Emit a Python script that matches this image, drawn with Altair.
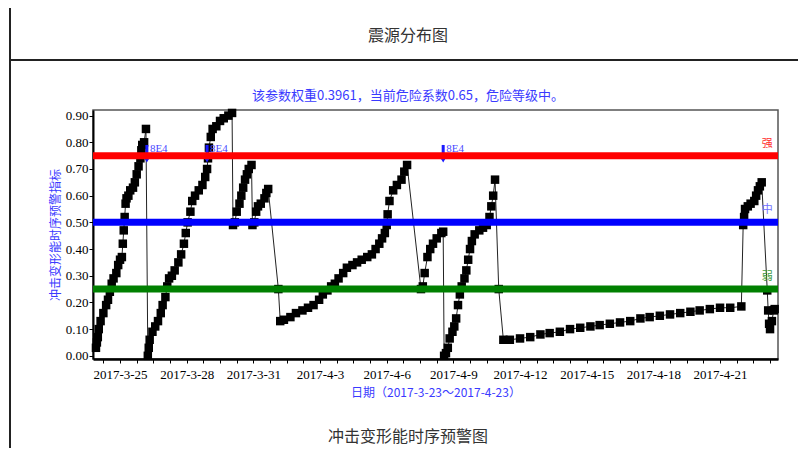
import altair as alt
import pandas as pd
from datetime import datetime, timedelta

# ---- data (UTC times "MM-DD HH") ----
times = [
    "03-23 22", "03-23 23", "03-24 00", "03-24 01", "03-24 03", "03-24 06", "03-24 09", "03-24 11",
    "03-24 13", "03-24 15", "03-24 17", "03-24 20", "03-24 22", "03-25 00", "03-25 02", "03-25 03",
    "03-25 04", "03-25 05", "03-25 06", "03-25 07", "03-25 09", "03-25 11", "03-25 14", "03-25 16",
    "03-25 18", "03-25 20", "03-25 22", "03-25 23", "03-26 00", "03-26 02", "03-26 04",
    "03-26 06", "03-26 07", "03-26 08", "03-26 11", "03-26 14", "03-26 17", "03-26 20", "03-26 22",
    "03-27 01", "03-27 03", "03-27 05", "03-27 08", "03-27 11", "03-27 15", "03-27 18", "03-27 21",
    "03-27 23", "03-28 01", "03-28 04", "03-28 06", "03-28 09", "03-28 13", "03-28 17", "03-28 20",
    "03-28 22", "03-28 23", "03-29 00", "03-29 02", "03-29 04", "03-29 08", "03-29 12", "03-29 16",
    "03-29 21", "03-30 01",
    "03-30 02", "03-30 04", "03-30 06", "03-30 09", "03-30 11", "03-30 13", "03-30 15", "03-30 17",
    "03-30 19", "03-30 22", "03-30 23", "03-31 01", "03-31 03", "03-31 05", "03-31 08", "03-31 12",
    "03-31 14", "03-31 16", "04-01 03",
    "04-01 05", "04-01 09", "04-01 16", "04-01 22", "04-02 05", "04-02 11", "04-02 17", "04-02 23",
    "04-03 03", "04-03 08", "04-03 12", "04-03 16", "04-03 20", "04-04 01", "04-04 05", "04-04 11",
    "04-04 16", "04-04 21", "04-05 03", "04-05 08", "04-05 12", "04-05 16", "04-05 19", "04-05 22",
    "04-06 00", "04-06 01", "04-06 03", "04-06 07", "04-06 11", "04-06 16", "04-06 19", "04-06 22",
    "04-07 13", "04-07 15", "04-07 17", "04-07 20", "04-07 23", "04-08 02", "04-08 06", "04-08 11",
    "04-08 13",
    "04-08 14", "04-08 16", "04-08 18", "04-08 20", "04-08 23", "04-09 01", "04-09 03", "04-09 05",
    "04-09 07", "04-09 09", "04-09 12", "04-09 14", "04-09 16", "04-09 18", "04-09 20", "04-09 23",
    "04-10 04", "04-10 08", "04-10 12", "04-10 15", "04-10 17", "04-10 19", "04-10 21", "04-11 01",
    "04-11 06",
    "04-11 13", "04-12 00", "04-12 11", "04-12 22", "04-13 08", "04-13 19", "04-14 06", "04-14 17",
    "04-15 04", "04-15 14", "04-16 01", "04-16 12", "04-16 23", "04-17 10", "04-17 20", "04-18 07",
    "04-18 18", "04-19 05", "04-19 16", "04-20 02", "04-20 13", "04-21 00", "04-21 11", "04-21 23",
    "04-22 01", "04-22 02", "04-22 03", "04-22 06", "04-22 09", "04-22 13", "04-22 15", "04-22 17",
    "04-22 19", "04-22 21", "04-23 03", "04-23 04", "04-23 05", "04-23 06", "04-23 08", "04-23 10",
    "04-23 11",
]
values = [
    0.03, 0.05, 0.07, 0.10, 0.13, 0.16, 0.19, 0.21,
    0.24, 0.27, 0.29, 0.31, 0.34, 0.36, 0.37, 0.42,
    0.47, 0.52, 0.57, 0.59, 0.60, 0.62, 0.63, 0.65,
    0.68, 0.71, 0.74, 0.77, 0.79, 0.80, 0.85,
    0.00, 0.03, 0.06, 0.09, 0.11, 0.13, 0.16, 0.19,
    0.22, 0.26, 0.29, 0.30, 0.32, 0.35, 0.38, 0.42,
    0.46, 0.50, 0.54, 0.58, 0.60, 0.62, 0.64, 0.67,
    0.70, 0.74, 0.78, 0.82, 0.85, 0.86, 0.88, 0.89,
    0.90, 0.91,
    0.49, 0.50, 0.54, 0.57, 0.60, 0.63, 0.66, 0.68,
    0.70, 0.715, 0.49, 0.50, 0.54, 0.56, 0.57, 0.59,
    0.61, 0.625, 0.25,
    0.13, 0.135, 0.145, 0.16, 0.17, 0.18, 0.19, 0.21,
    0.23, 0.245, 0.26, 0.27, 0.29, 0.31, 0.33, 0.34,
    0.35, 0.36, 0.37, 0.38, 0.40, 0.42, 0.44, 0.46,
    0.49, 0.53, 0.58, 0.62, 0.64, 0.66, 0.69, 0.715,
    0.25, 0.26, 0.31, 0.37, 0.40, 0.42, 0.44, 0.46,
    0.465,
    0.00, 0.01, 0.03, 0.065, 0.09, 0.11, 0.14, 0.19,
    0.23, 0.26, 0.29, 0.32, 0.36, 0.40, 0.43, 0.455,
    0.47, 0.48, 0.49, 0.52, 0.56, 0.60, 0.66, 0.25,
    0.06,
    0.06, 0.065, 0.07, 0.08, 0.085, 0.09, 0.10, 0.105,
    0.11, 0.115, 0.12, 0.125, 0.13, 0.14, 0.145, 0.15,
    0.155, 0.16, 0.165, 0.17, 0.175, 0.18, 0.18, 0.185,
    0.49, 0.52, 0.55, 0.56, 0.57, 0.58, 0.60, 0.62,
    0.635, 0.65, 0.245, 0.17, 0.12, 0.10, 0.13, 0.17,
    0.175,
]

event_times = ["03-26 05", "03-28 22", "04-08 13"]
event_text = "8E4"
event_low, event_mid, event_high = 0.735, 0.775, 0.79

threshold_values = [0.75, 0.50, 0.25]
threshold_colors = ["#ff0000", "#0000ff", "#008000"]
threshold_names = ["强", "中", "弱"]
threshold_name_colors = ["#ff3030", "#7070ff", "#3c9a3c"]
threshold_name_time = "04-23 03"

y_ticks = [0.0, 0.1, 0.2, 0.3, 0.4, 0.5, 0.6, 0.7, 0.8, 0.9]

title_text = "该参数权重0.3961，当前危险系数0.65，危险等级中。"
y_title = "冲击变形能时序预警指标"
x_title = "日期（2017-3-23～2017-4-23）"
top_caption = "震源分布图"
bottom_caption = "冲击变形能时序预警图"


def iso(t):
    md, h = t.split(" ")
    return f"2017-{md}T{h}:00:00Z"


series = pd.DataFrame({"t": [iso(t) for t in times], "v": values})
events = pd.DataFrame({
    "t": [iso(t) for t in event_times],
    "lo": [event_low] * len(event_times),
    "mid": [event_mid] * len(event_times),
    "hi": [event_high] * len(event_times),
    "txt": [event_text] * len(event_times),
})
thresholds = pd.DataFrame({
    "v": threshold_values,
    "c": threshold_colors,
    "name": threshold_names,
    "nc": threshold_name_colors,
    "t": [iso(threshold_name_time)] * 3,
})

W, H = 685, 249
BLUE = "#3a3aff"
CJK = "Noto Sans CJK SC"
SERIF = "Liberation Serif"

x_scale = alt.Scale(
    type="utc",
    domain=[
        alt.DateTime(year=2017, month=3, date=23, hours=18, minutes=48, utc=True),
        alt.DateTime(year=2017, month=4, date=23, hours=14, minutes=36, utc=True),
    ],
)
y_scale = alt.Scale(domain=[-0.012, 0.921], nice=False, zero=False)

base_dt = datetime(2017, 3, 25)
tick_vals = []
for k in range(-1, 40):
    d = base_dt + timedelta(hours=18 * k)
    tick_vals.append(alt.DateTime(year=d.year, month=d.month, date=d.day, hours=d.hour, utc=True))

x_axis = alt.Axis(
    values=tick_vals,
    labelExpr="((datum.value - utc(2017,2,25)) % 259200000 == 0) ? utcFormat(datum.value, '%Y-%-m-%-d') : ''",
    labelOverlap=False, labelFlush=False, labelBound=False,
    tickSize=4, tickColor="black", tickWidth=1,
    domainColor="black", domainWidth=2.5,
    labelFont=SERIF, labelFontSize=13, labelColor="black", labelPadding=5,
    title=x_title, titleFont=CJK, titleFontSize=12, titleFontWeight="normal",
    titleColor=BLUE, titlePadding=6, grid=False,
)
y_axis = alt.Axis(
    values=y_ticks, format=".2f",
    tickSize=4, tickColor="black", domainColor="black", domainWidth=2,
    labelFont=SERIF, labelFontSize=13, labelColor="black", labelPadding=1,
    title=y_title, titleFont=CJK, titleFontSize=12, titleFontWeight="normal",
    titleColor=BLUE, titlePadding=3, grid=False,
)


def X(field):
    return alt.X(field, type="temporal", scale=x_scale, axis=x_axis)


def Y(field):
    return alt.Y(field, type="quantitative", scale=y_scale, axis=y_axis)


one = alt.Data(values=[{"a": 1}])

# decorations of the surrounding page frame and texts
left_frame = alt.Chart(one).mark_rule(color="#222", strokeWidth=2).encode(
    x=alt.value(-83), y=alt.value(-102), y2=alt.value(345))
mid_frame = alt.Chart(one).mark_rule(color="#222", strokeWidth=2).encode(
    x=alt.value(-84), x2=alt.value(705), y=alt.value(-50))
top_cap = alt.Chart(one).mark_text(font=CJK, fontSize=16, color="#333").encode(
    x=alt.value(315), y=alt.value(-74), text=alt.value(top_caption))
bot_cap = alt.Chart(one).mark_text(font=CJK, fontSize=16, color="#333").encode(
    x=alt.value(315), y=alt.value(327), text=alt.value(bottom_caption))
title_mark = alt.Chart(one).mark_text(font=CJK, fontSize=13, color=BLUE).encode(
    x=alt.value(315), y=alt.value(-14), text=alt.value(title_text))

line = alt.Chart(series).mark_line(color="#222", strokeWidth=1).encode(x=X("t"), y=Y("v"))
pts = alt.Chart(series).mark_point(shape="square", size=72, filled=True, color="black", opacity=1).encode(
    x=X("t"), y=Y("v"))

ev_stem = alt.Chart(events).mark_rule(color="#1a1aff", strokeWidth=3).encode(
    x=X("t"), y=Y("lo"), y2="hi:Q")
ev_tri = alt.Chart(events).mark_point(shape="triangle-down", size=45, filled=True, color="#1a1aff", opacity=1).encode(
    x=X("t"), y=Y("lo"))
ev_txt = alt.Chart(events).mark_text(align="left", dx=3, font=SERIF, fontSize=11, color="#4a4aff").encode(
    x=X("t"), y=Y("mid"), text="txt:N")

th_rules = alt.Chart(thresholds).mark_rule(strokeWidth=7).encode(
    y=Y("v"), color=alt.Color("c:N", scale=None))
th_names = alt.Chart(thresholds).mark_text(font=CJK, fontSize=11, dy=-12).encode(
    x=X("t"), y=Y("v"), text="name:N", color=alt.Color("nc:N", scale=None))

chart = alt.layer(
    left_frame, mid_frame, top_cap, bot_cap, title_mark,
    line, pts, ev_stem, ev_tri, ev_txt, th_rules, th_names,
).properties(
    width=W, height=H,
    autosize=alt.AutoSizeParams(type="none"),
    padding={"left": 85, "top": 102, "right": 20, "bottom": 89},
).configure_view(stroke="#555", strokeWidth=1.5)

chart.save("out.html", embed_options={"renderer": "svg", "actions": False})
